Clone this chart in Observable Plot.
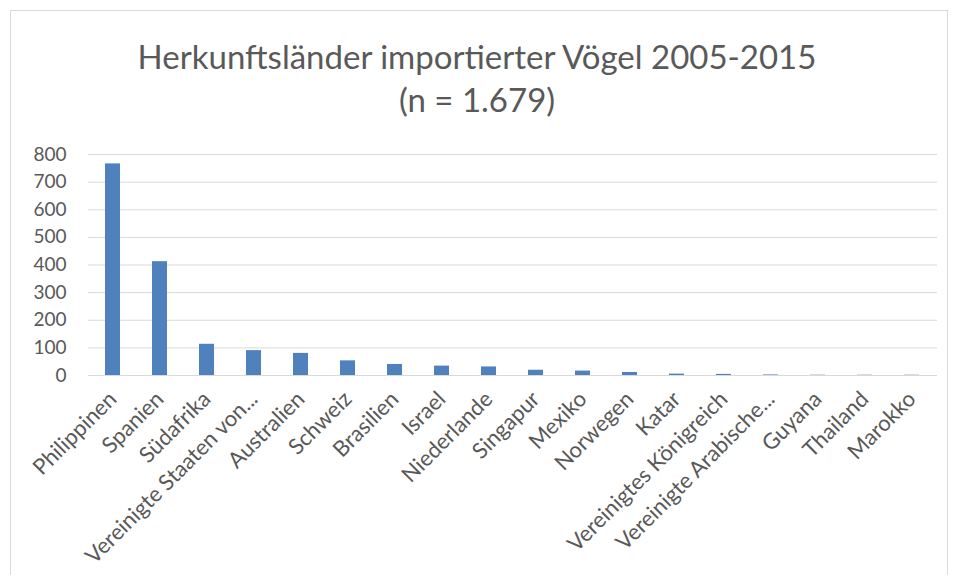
<!DOCTYPE html>
<html>
<head>
<meta charset="utf-8">
<script src="https://cdn.jsdelivr.net/npm/d3@7"></script>
<script src="https://cdn.jsdelivr.net/npm/@observablehq/plot@0.6"></script>
<style>
  html, body { margin: 0; padding: 0; background: #fff; width: 954px; height: 575px; overflow: hidden; }
  #frame { position: absolute; left: 10px; top: 10px; width: 938px; height: 600px; border: 1px solid #d9d9d9; box-sizing: border-box; }
  .t { position: absolute; left: 0; width: 954px; text-align: center; font-family: Lato, sans-serif; color: #595959; font-size: 33px; line-height: 1; }
  #chart { position: absolute; left: 0; top: 140px; }
</style>
</head>
<body>
<div id="frame"></div>
<div class="t" style="top:40px">Herkunftsländer importierter Vögel 2005-2015</div>
<div class="t" style="top:83px">(n = 1.679)</div>
<div id="chart"></div>
<script>
const countries = ["Philippinen","Spanien","Südafrika","Vereinigte Staaten von...","Australien","Schweiz","Brasilien","Israel","Niederlande","Singapur","Mexiko","Norwegen","Katar","Vereinigtes Königreich","Vereinigte Arabische...","Guyana","Thailand","Marokko"];
const counts = [766,412,113,90,80,53,40,34,31,19,16,11,5,4,2,1,1,1];
const yTicks = [0,100,200,300,400,500,600,700,800];

const data = countries.map((c, i) => ({country: c, count: counts[i]}));

const chart = Plot.plot({
  width: 954,
  height: 435,
  marginLeft: 88,
  marginRight: 17,
  marginTop: 14,
  marginBottom: 200,
  style: {fontFamily: "Lato, sans-serif", fontSize: "19px", color: "#595959", background: "transparent"},
  x: {domain: countries, paddingInner: 0.68, paddingOuter: 0.34, label: null},
  y: {domain: [0, 800], label: null},
  marks: [
    Plot.gridY(yTicks, {stroke: "#d9d9d9", strokeOpacity: 1, strokeWidth: 1}),
    Plot.barY(data, {x: "country", y: "count", fill: "#4f81bd"}),
    Plot.ruleY([0], {stroke: "#d9d9d9", strokeWidth: 1}),
    Plot.axisY(yTicks, {tickSize: 0, tickPadding: 22, fontSize: 19, fill: "#595959", label: null}),
    Plot.axisX({tickSize: 0, tickPadding: 20, tickRotate: -45, fontSize: 22, fill: "#595959", label: null})
  ]
});
document.getElementById("chart").appendChild(chart);
</script>
</body>
</html>
